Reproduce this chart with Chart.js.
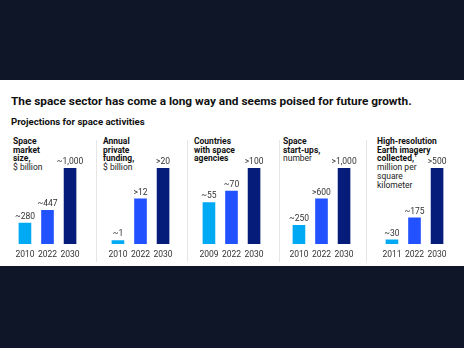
<!DOCTYPE html>
<html>
<head>
<meta charset="utf-8">
<script src="https://cdn.jsdelivr.net/npm/chart.js@4.4.1/dist/chart.umd.min.js"></script>
<style>
  body { margin: 0; width: 464px; height: 348px; background: #0f1628; overflow: hidden;
         font-family: Roboto, "Noto Sans", sans-serif; color: #111; }
  #sheet { position: absolute; left: 0; top: 80px; width: 464px; height: 186px; background: #fff; }
  .title { position: absolute; left: 11px; top: 94px; font-size: 13px; font-weight: 700; white-space: nowrap; }
  .sub { position: absolute; left: 11px; top: 116px; font-size: 9.5px; font-weight: 700; white-space: nowrap; }
  .head { position: absolute; top: 137px; font-size: 8.5px; line-height: 8.7px; white-space: nowrap; color: #222; }
  .head b { font-weight: 700; color: #111; }
  .head sup { font-size: 5px; line-height: 0; }
  .rule { position: absolute; top: 140px; width: 1px; height: 122px; background: #e6e6e6; }
  canvas { position: absolute; top: 150px; }
</style>
</head>
<body>
<div id="sheet"></div>
<div class="title" id="title">The space sector has come a long way and seems poised for future growth.</div>
<div class="sub" id="sub">Projections for space activities</div>

<div class="head" style="left:13px"><b>Space<br>market<br>size,</b><br>$ billion</div>
<div class="head" style="left:103px"><b>Annual<br>private<br>funding,</b><br>$ billion</div>
<div class="head" style="left:194px"><b>Countries<br>with space<br>agencies</b></div>
<div class="head" style="left:283px"><b>Space<br>start-ups,</b><br>number</div>
<div class="head" style="left:377px"><b>High-resolution<br>Earth imagery<br>collected,<sup>1</sup></b><br>million per<br>square<br>kilometer</div>

<div class="rule" style="left:96px"></div>
<div class="rule" style="left:187px"></div>
<div class="rule" style="left:279px"></div>
<div class="rule" style="left:366px"></div>

<canvas id="c0" width="75" height="114" style="left:10px"></canvas>
<canvas id="c1" width="75" height="114" style="left:103px"></canvas>
<canvas id="c2" width="75" height="114" style="left:194px"></canvas>
<canvas id="c3" width="75" height="114" style="left:284px"></canvas>
<canvas id="c4" width="75" height="114" style="left:377px"></canvas>

<script>
// years shown under each mini chart
const marketYears = ['2010', '2022', '2030'];
const fundingYears = ['2010', '2022', '2030'];
const countryYears = ['2009', '2022', '2030'];
const startupYears = ['2010', '2022', '2030'];
const imageryYears = ['2011', '2022', '2030'];

// values
const marketValues = [280, 447, 1000];
const fundingValues = [1, 12, 20];
const countryValues = [55, 70, 100];
const startupValues = [250, 600, 1000];
const imageryValues = [30, 175, 500];

// value labels above bars
const marketLabels = ['~280', '~447', '~1,000'];
const fundingLabels = ['~1', '>12', '>20'];
const countryLabels = ['~55', '~70', '>100'];
const startupLabels = ['~250', '>600', '>1,000'];
const imageryLabels = ['~30', '~175', '>500'];

const barColors = ['#00a9f4', '#2251ff', '#051c7a'];
const font = 'Roboto, "Noto Sans", sans-serif';

// squeeze the headline text to the width it has in the original
const fitWidth = (id, w) => {
    const el = document.getElementById(id);
    const size = parseFloat(getComputedStyle(el).fontSize);
    el.style.fontSize = (size * w / el.getBoundingClientRect().width) + 'px';
};
fitWidth('title', 401);
fitWidth('sub', 134);

// draws the "~280" style text on top of each bar
const valueLabels = {
    id: 'valueLabels',
    afterDatasetsDraw(chart) {
        const ctx = chart.ctx;
        const texts = chart.options.plugins.valueLabels.texts;
        ctx.save();
        ctx.fillStyle = '#333';
        ctx.font = `8.5px ${font}`;
        ctx.textAlign = 'center';
        ctx.textBaseline = 'middle';
        chart.getDatasetMeta(0).data.forEach((bar, i) => {
            ctx.fillText(texts[i], bar.x, bar.y - 6);
        });
        ctx.restore();
    }
};

const makeChart = (id, years, values, texts) => {
    const ctx = document.getElementById(id).getContext('2d');
    return new Chart(ctx, {
        type: 'bar',
        data: {
            labels: years,
            datasets: [{
                data: values,
                backgroundColor: barColors,
                barPercentage: 0.56,
                categoryPercentage: 1
            }]
        },
        options: {
            responsive: false,
            animation: false,
            devicePixelRatio: 1,
            layout: { padding: 0 },
            plugins: {
                legend: { display: false },
                tooltip: { enabled: false },
                valueLabels: { texts: texts }
            },
            scales: {
                x: {
                    grid: { display: false, drawTicks: false },
                    border: { display: false },
                    ticks: { color: '#333', font: { size: 8.5, family: font }, padding: 6, maxRotation: 0, autoSkip: false },
                    afterFit: (scale) => { scale.height = 20; }
                },
                y: {
                    display: false,
                    min: 0,
                    // tallest bar takes 76 of the 94px plot height
                    max: Math.max(...values) * 94 / 76
                }
            }
        },
        plugins: [valueLabels]
    });
};

makeChart('c0', marketYears, marketValues, marketLabels);
makeChart('c1', fundingYears, fundingValues, fundingLabels);
makeChart('c2', countryYears, countryValues, countryLabels);
makeChart('c3', startupYears, startupValues, startupLabels);
makeChart('c4', imageryYears, imageryValues, imageryLabels);
</script>
</body>
</html>
